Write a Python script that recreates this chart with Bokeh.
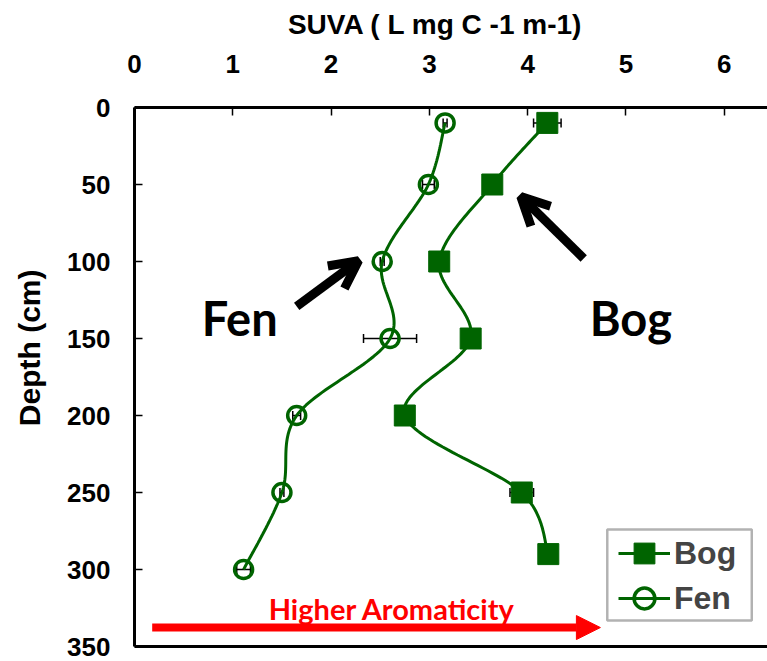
import numpy as np
from bokeh.plotting import figure
from bokeh.models import (ColumnDataSource, Range1d, LinearAxis, FixedTicker, Whisker, TeeHead,
                          Arrow, OpenHead, NormalHead, Legend, LegendItem, BoxAnnotation)
from bokeh.core.properties import value
from bokeh.embed import file_html
from bokeh.resources import INLINE

# SUVA profiles with depth
depth_fen = [10, 50, 100, 150, 200, 250, 300]
suva_fen = [3.16, 2.99, 2.52, 2.60, 1.65, 1.50, 1.11]
err_fen = [0.02, 0.06, 0.02, 0.27, 0.04, 0.02, 0.07]

depth_bog = [10, 50, 100, 150, 200, 250, 290]
suva_bog = [4.20, 3.64, 3.10, 3.42, 2.75, 3.94, 4.21]
err_bog = [0.14, 0.05, 0.05, 0.05, 0.05, 0.12, 0.05]

x_ticks = [0, 1, 2, 3, 4, 5, 6]
y_ticks = [0, 50, 100, 150, 200, 250, 300, 350]

GREEN = "#006400"
NBSP = "\u00a0"
W, H = 767, 661
LEFT, TOP, BOTTOM = 134, 107, 15
X_END = 6.44
Y_END = 350


def smooth(xs, ys, n=30):
    """Bezier smoothing through the points (tangents from neighbours), in screen-like units."""
    kx = (W - LEFT) / X_END
    ky = (H - TOP - BOTTOM) / Y_END
    P = np.column_stack([np.asarray(xs) * kx, np.asarray(ys) * ky])
    out = []
    m = len(P)
    for i in range(m - 1):
        p0 = P[i - 1] if i > 0 else P[i]
        p1, p2 = P[i], P[i + 1]
        p3 = P[i + 2] if i + 2 < m else P[i + 1]
        c1 = p1 + (p2 - p0) / 6.0
        c2 = p2 - (p3 - p1) / 6.0
        t = np.linspace(0, 1, n, endpoint=(i == m - 2))[:, None]
        seg = (1 - t) ** 3 * p1 + 3 * (1 - t) ** 2 * t * c1 + 3 * (1 - t) * t ** 2 * c2 + t ** 3 * p2
        out.append(seg)
    S = np.vstack(out)
    return S[:, 0] / kx, S[:, 1] / ky


p = figure(width=W, height=H, output_backend="svg", toolbar_location=None,
           x_range=Range1d(0, X_END), y_range=Range1d(Y_END, 0),
           x_axis_location="above", min_border_left=LEFT, min_border_top=TOP,
           min_border_bottom=BOTTOM, min_border_right=0)
p.grid.visible = False
p.outline_line_color = None
p.background_fill_color = "white"

# axes (non-breaking padding nudges the titles off the frame centre)
xa = p.xaxis[0]
xa.ticker = FixedTicker(ticks=x_ticks)
xa.axis_label = "SUVA ( L mg C -1 m-1)" + NBSP * 4
ya = p.yaxis[0]
ya.ticker = FixedTicker(ticks=y_ticks)
ya.axis_label = NBSP * 7 + "Depth (cm)"
for ax in (xa, ya):
    ax.axis_line_width = 3
    ax.axis_line_color = "black"
    ax.major_tick_in = 8
    ax.major_tick_out = 0
    ax.major_tick_line_width = 1.5
    ax.minor_tick_line_color = None
    ax.major_label_text_font = "Liberation Sans"
    ax.major_label_text_font_style = "bold"
    ax.major_label_text_font_size = "26px"
    ax.major_label_text_color = "black"
    ax.axis_label_text_font = "Liberation Sans"
    ax.axis_label_text_font_style = "bold"
    ax.axis_label_text_color = "black"
xa.axis_label_text_font_size = "28px"
ya.axis_label_text_font_size = "30px"
xa.major_label_standoff = 35
xa.axis_label_standoff = 12
ya.major_label_standoff = 24
ya.axis_label_standoff = 18

bottom_axis = LinearAxis(ticker=FixedTicker(ticks=[]), axis_line_width=3,
                         major_label_text_font_size="0px", major_tick_line_color=None,
                         minor_tick_line_color=None)
p.add_layout(bottom_axis, "below")

src_fen = ColumnDataSource(dict(x=suva_fen, y=depth_fen,
                                lo=np.array(suva_fen) - np.array(err_fen),
                                hi=np.array(suva_fen) + np.array(err_fen)))
src_bog = ColumnDataSource(dict(x=suva_bog, y=depth_bog,
                                lo=np.array(suva_bog) - np.array(err_bog),
                                hi=np.array(suva_bog) + np.array(err_bog)))

# error bars
for src in (src_fen, src_bog):
    wk = Whisker(base="y", lower="lo", upper="hi", dimension="width", source=src,
                 line_color="black", line_width=1.5, level="underlay",
                 lower_head=TeeHead(size=9, line_width=1.5, line_color="black"),
                 upper_head=TeeHead(size=9, line_width=1.5, line_color="black"))
    p.add_layout(wk)

# smoothed profiles
fx, fy = smooth(suva_fen, depth_fen)
bx, by = smooth(suva_bog, depth_bog)
fen_line = p.line(fx, fy, line_color=GREEN, line_width=3)
bog_line = p.line(bx, by, line_color=GREEN, line_width=3)
bog_pts = p.scatter("x", "y", source=src_bog, marker="square", size=21,
                    fill_color=GREEN, line_color=GREEN, line_width=1)
fen_pts = p.scatter("x", "y", source=src_fen, marker="circle", size=18,
                    fill_color=None, line_color=GREEN, line_width=3.5)

# annotations
p.text(x=[1.07], y=[136.7], text=["Fen"], text_font=value("Lato"), text_font_style="bold",
       text_font_size="47px", text_align="center", text_baseline="middle", text_color="black")
p.text(x=[5.05], y=[136.7], text=["Bog"], text_font=value("Lato"), text_font_style="bold",
       text_font_size="47px", text_align="center", text_baseline="middle", text_color="black")
p.text(x=[2.62], y=[325.6], text=["Higher Aromaticity"], text_font=value("Lato"),
       text_font_style="bold", text_font_size="29px", text_align="center",
       text_baseline="middle", text_color="red")

p.add_layout(Arrow(x_start=1.65, y_start=129.2, x_end=2.28, y_end=99.4,
                   line_width=9, line_color="black",
                   end=OpenHead(size=28, line_width=9, line_color="black")))
p.add_layout(Arrow(x_start=4.57, y_start=98.0, x_end=3.93, y_end=57.8,
                   line_width=9, line_color="black",
                   end=OpenHead(size=28, line_width=9, line_color="black")))
p.add_layout(Arrow(x_start=0.18, y_start=337.7, x_end=4.74, y_end=337.7,
                   line_width=8, line_color="red",
                   end=NormalHead(size=24, line_color="red", fill_color="red", line_width=1)))

# legend: frame plus one entry per series
p.add_layout(BoxAnnotation(left=4.81, right=6.28, top=274, bottom=333.1, fill_alpha=0,
                           line_color="black", line_width=2.5))
entries = [("Bog", [bog_line, bog_pts], 67), ("Fen", [fen_line, fen_pts], 22)]
for label, rends, yoff in entries:
    lg = Legend(items=[LegendItem(label=label, renderers=rends)],
                location=(484, yoff), glyph_width=52, glyph_height=52,
                padding=0, margin=0, border_line_color=None, background_fill_alpha=0,
                label_text_font="Liberation Sans", label_text_font_style="bold",
                label_text_font_size="32px", label_standoff=4)
    p.add_layout(lg)

open("out.html", "w").write(file_html(p, INLINE))
